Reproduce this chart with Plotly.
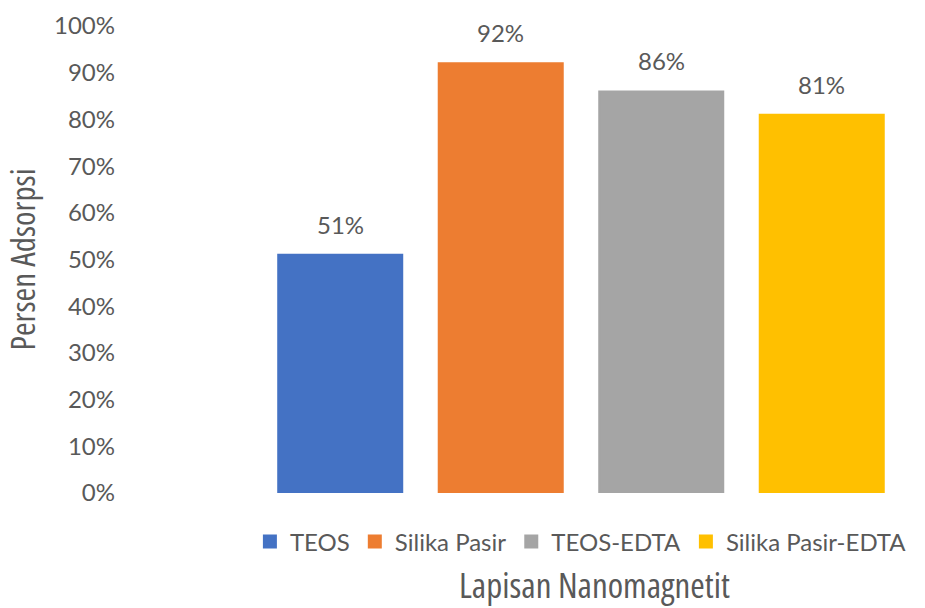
import plotly.graph_objects as go

# Adsorption percentage for each nanomagnetite coating
categories = ["TEOS", "Silika Pasir", "TEOS-EDTA", "Silika Pasir-EDTA"]
values = [0.51, 0.92, 0.86, 0.81]
colors = ["#4472C4", "#ED7D31", "#A5A5A5", "#FFC000"]
y_ticks = [0.0, 0.1, 0.2, 0.3, 0.4, 0.5, 0.6, 0.7, 0.8, 0.9, 1.0]

text_color = "#595959"
label_font = "Lato, 'Open Sans', sans-serif"
title_font = "'Open Sans', 'Liberation Sans', sans-serif"


def narrow(s):
    return f'<span style="font-stretch:75%">{s}</span>'


fig = go.Figure()
for i, (name, val, col) in enumerate(zip(categories, values, colors)):
    fig.add_trace(go.Bar(
        x=[i],
        y=[val],
        name=name,
        width=0.7726,
        marker=dict(color=col, line=dict(width=2, color=col)),
        hoverinfo="skip",
    ))
    # value label above the bar
    fig.add_annotation(
        x=i, y=val, xref="x", yref="y",
        text=f"{val:.0%}",
        showarrow=False,
        xanchor="center", yanchor="bottom",
        yshift=14,
        font=dict(family=label_font, size=24, color=text_color),
    )

fig.add_annotation(
    text=narrow("Lapisan Nanomagnetit"),
    xref="paper", yref="paper",
    x=(594 - 116) / 786,
    y=(493 - 584) / 467,
    xanchor="center", yanchor="middle",
    showarrow=False,
    font=dict(family=title_font, size=35, color=text_color),
)

fig.update_layout(
    width=925,
    height=608,
    margin=dict(l=116, r=23, t=26, b=115),
    paper_bgcolor="white",
    plot_bgcolor="white",
    barmode="overlay",
    showlegend=True,
    legend=dict(
        orientation="h",
        xref="container", yref="container",
        x=0.628,
        xanchor="center",
        y=1 - 542 / 608,
        yanchor="middle",
        font=dict(family=label_font, size=24, color=text_color),
        traceorder="normal",
        itemclick=False,
    ),
    xaxis=dict(
        range=[-1.397, 3.5],
        automargin=False,
        showticklabels=False,
        showgrid=False,
        zeroline=False,
        showline=False,
        ticks="",
    ),
    yaxis=dict(
        range=[0, 1.0],
        automargin=False,
        tickvals=y_ticks,
        tickformat=".0%",
        showgrid=False,
        zeroline=False,
        showline=False,
        ticks="",
        tickfont=dict(family=label_font, size=24, color=text_color),
        title=dict(
            text=narrow("Persen Adsorpsi"),
            font=dict(family=title_font, size=33, color=text_color),
            standoff=12,
        ),
    ),
)

fig.write_html("out.html")
